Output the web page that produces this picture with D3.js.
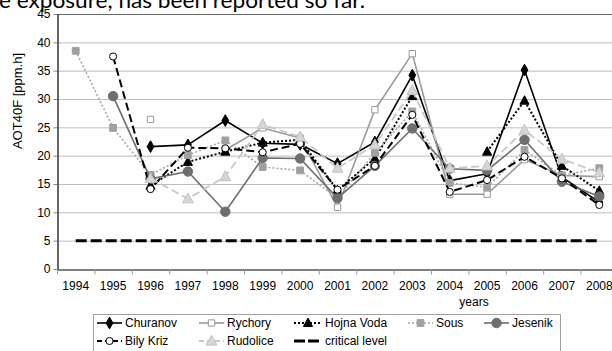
<!DOCTYPE html>
<html>
<head>
<meta charset="utf-8">
<script src="https://cdn.jsdelivr.net/npm/d3@7"></script>
<style>
  html, body { margin: 0; padding: 0; background: #fff; }
  svg { display: block; }
  text { font-family: "Liberation Sans", Arial, sans-serif; }
</style>
</head>
<body>
<svg id="chart" width="612" height="351"></svg>
<script>
// AOT40F per monitoring station, 1994–2008
const years = ["1994","1995","1996","1997","1998","1999","2000","2001","2002","2003","2004","2005","2006","2007","2008"];
const yTicks = [0, 5, 10, 15, 20, 25, 30, 35, 40, 45];

const churanov  = [null, null, 21.6, 21.9, 26.2, 22.2, 22.0, 18.6, 22.4, 34.2, 15.6, 16.8, 35.1, 16.2, 11.8];
const rychory   = [null, null, 26.4, null, 21.0, 24.9, 23.1, 10.9, 28.1, 38.0, 13.2, 13.2, 19.3, 16.5, 16.3];
const hojnaVoda = [null, null, 14.7, 18.9, 20.7, 22.3, 22.8, 13.9, 19.5, 30.5, null, 20.7, 29.7, 18.2, 13.8];
const sous      = [38.5, 24.9, 16.6, 20.1, 22.7, 18.0, 17.4, 12.5, 20.5, 27.8, 15.2, 14.4, 21.0, 16.5, 17.8];
const jesenik   = [null, 30.5, 15.9, 17.2, 10.1, 19.6, 19.5, 12.5, 18.2, 24.8, 17.7, 17.4, 22.8, 15.4, 12.8];
const bilyKriz  = [null, 37.5, 14.1, 21.4, 21.3, 20.6, 22.1, 14.0, 18.2, 27.2, 13.6, 15.7, 19.8, 16.0, 11.3];
const rudolice  = [null, null, 16.0, 12.4, 16.3, 25.5, 23.3, 17.8, 21.9, 31.5, 17.8, 18.2, 24.5, 19.4, 17.0];
const critical  = [5, 5, 5, 5, 5, 5, 5, 5, 5, 5, 5, 5, 5, 5, 5];

const seriesNames = ["Churanov", "Rychory", "Hojna Voda", "Sous", "Jesenik", "Bily Kriz", "Rudolice", "critical level"];
const seriesValues = [churanov, rychory, hojnaVoda, sous, jesenik, bilyKriz, rudolice, critical];

// visual style of every series
const styles = {
  "Churanov":       { stroke: "#000",    width: 1.6, dash: null,  marker: "diamond",  fill: "#000",    mstroke: "#000",    size: 40 },
  "Rychory":        { stroke: "#9a9a9a", width: 1.6, dash: null,  marker: "square",   fill: "#fff",    mstroke: "#9a9a9a", size: 40 },
  "Hojna Voda":     { stroke: "#000",    width: 2.0, dash: "2,2", marker: "triangle", fill: "#000",    mstroke: "#000",    size: 44 },
  "Sous":           { stroke: "#a8a8a8", width: 1.6, dash: "2,2", marker: "square",   fill: "#a0a0a0", mstroke: "#a0a0a0", size: 46 },
  "Jesenik":        { stroke: "#6e6e6e", width: 1.6, dash: null,  marker: "circle",   fill: "#6e6e6e", mstroke: "#6e6e6e", size: 70 },
  "Bily Kriz":      { stroke: "#000",    width: 2.0, dash: "8,4", marker: "circle",   fill: "#fff",    mstroke: "#000",    size: 40 },
  "Rudolice":       { stroke: "#c8c8c8", width: 1.8, dash: "8,4", marker: "triangle", fill: "#d6d6d6", mstroke: "#c0c0c0", size: 60 },
  "critical level": { stroke: "#000",    width: 3.0, dash: "11,4", marker: null }
};

const svg = d3.select("#chart");
const W = 612, H = 351;
svg.append("rect").attr("width", W).attr("height", H).attr("fill", "#fff");

const plot = { left: 57, top: 14, bottom: 269, step: 37.4 };
const x = d3.scaleBand().domain(years).range([plot.left, plot.left + plot.step * years.length]).padding(0);
const y = d3.scaleLinear().domain([0, 45]).range([plot.bottom, plot.top]);
const cx = d => x(d) + x.bandwidth() / 2;

// text above the chart
svg.append("text")
  .attr("x", -1).attr("y", 8)
  .style("font-family", "Lato, 'Open Sans', sans-serif")
  .style("font-size", "21px")
  .attr("textLength", 366)
  .attr("lengthAdjust", "spacingAndGlyphs")
  .attr("fill", "#000")
  .text("e exposure, has been reported so far.");

// horizontal gridlines
svg.append("g").selectAll("line")
  .data(yTicks.filter(t => t > 0))
  .join("line")
  .attr("x1", plot.left).attr("x2", W)
  .attr("y1", d => y(d) + 0.5).attr("y2", d => y(d) + 0.5)
  .attr("stroke", d => d === 45 ? "#6a6a6a" : "#bdbdbd")
  .attr("stroke-width", 1);

// y axis
const yAxis = svg.append("g")
  .attr("transform", `translate(${plot.left + 0.5},0)`)
  .call(d3.axisLeft(y).tickValues(yTicks).tickSize(4).tickPadding(3).tickSizeOuter(0));
yAxis.select(".domain").attr("stroke", "#000").attr("stroke-width", 1.2);
yAxis.selectAll(".tick line").attr("stroke", "#888");
yAxis.selectAll("text").style("font-size", "12px").attr("fill", "#000")
  .style("font-family", "'Liberation Sans', Arial, sans-serif");

// x axis
const xAxis = svg.append("g")
  .attr("transform", `translate(0,${plot.bottom + 0.5})`)
  .call(d3.axisBottom(x).tickSize(0).tickPadding(12).tickSizeOuter(0));
xAxis.select(".domain").attr("stroke", "#000").attr("stroke-width", 1.2);
xAxis.selectAll("text").style("font-size", "12px").attr("fill", "#000")
  .style("font-family", "'Liberation Sans', Arial, sans-serif");
xAxis.selectAll(".tick-edge")
  .data(years)
  .join("line")
  .attr("class", "tick-edge")
  .attr("x1", d => x(d) + 0.5).attr("x2", d => x(d) + 0.5)
  .attr("y1", 0).attr("y2", 5)
  .attr("stroke", "#999");

// axis titles
svg.append("text")
  .attr("transform", `translate(22,101) rotate(-90)`)
  .attr("text-anchor", "middle")
  .style("font-size", "13px")
  .text("AOT40F [ppm.h]");
svg.append("text")
  .attr("x", 474).attr("y", 306)
  .attr("text-anchor", "middle")
  .style("font-size", "12px")
  .text("years");

// marker shapes
const symbolFor = m => ({
  diamond: d3.symbolDiamond,
  square: d3.symbolSquare,
  circle: d3.symbolCircle
})[m];

function triangleUp(size) {
  // triangle pointing up, centred on the point
  const s = Math.sqrt(size) * 1.25;
  return `M0,${-s * 0.6}L${s * 0.55},${s * 0.42}L${-s * 0.55},${s * 0.42}Z`;
}

function markerPath(st) {
  if (st.marker === "triangle") return triangleUp(st.size);
  return d3.symbol().type(symbolFor(st.marker)).size(st.size)();
}

const line = d3.line()
  .defined(d => d.v !== null)
  .x(d => cx(d.year))
  .y(d => y(d.v));

const layer = svg.append("g");
seriesNames.forEach((name, i) => {
  const st = styles[name];
  const pts = years.map((yr, j) => ({ year: yr, v: seriesValues[i][j] }));
  const g = layer.append("g");
  g.append("path")
    .datum(pts)
    .attr("d", line)
    .attr("fill", "none")
    .attr("stroke", st.stroke)
    .attr("stroke-width", st.width)
    .attr("stroke-dasharray", st.dash)
    .attr("stroke-linejoin", "round");
  if (st.marker) {
    g.selectAll("path.mk")
      .data(pts.filter(d => d.v !== null))
      .join("path")
      .attr("class", "mk")
      .attr("transform", d => `translate(${cx(d.year)},${y(d.v)})`)
      .attr("d", markerPath(st))
      .attr("fill", st.fill)
      .attr("stroke", st.mstroke)
      .attr("stroke-width", 1);
  }
});

// legend
const legendCols = [97, 199, 294, 408, 484];
const legendRows = [323, 341];
const legend = svg.append("g");
legend.append("rect")
  .attr("x", 93.5).attr("y", 314.5)
  .attr("width", 467).attr("height", 50)
  .attr("fill", "#fff").attr("stroke", "#a0a0a0");
seriesNames.forEach((name, i) => {
  const st = styles[name];
  const col = i % 5, row = Math.floor(i / 5);
  const lx = legendCols[col], ly = legendRows[row];
  const len = (col === 2) ? 28 : 25;
  const item = legend.append("g").attr("transform", `translate(${lx},${ly})`);
  item.append("line")
    .attr("x1", 0).attr("x2", len).attr("y1", 0).attr("y2", 0)
    .attr("stroke", st.stroke)
    .attr("stroke-width", st.width)
    .attr("stroke-dasharray", name === "critical level" ? "11,3" : (st.dash ? (st.dash === "8,4" ? "5,3" : st.dash) : null));
  if (st.marker) {
    item.append("path")
      .attr("transform", `translate(${len / 2},0)`)
      .attr("d", markerPath(st))
      .attr("fill", st.fill)
      .attr("stroke", st.mstroke)
      .attr("stroke-width", 1);
  }
  item.append("text")
    .attr("x", len + 3).attr("y", 0).attr("dy", "0.35em")
    .style("font-size", "12px")
    .text(name);
});
</script>
</body>
</html>
